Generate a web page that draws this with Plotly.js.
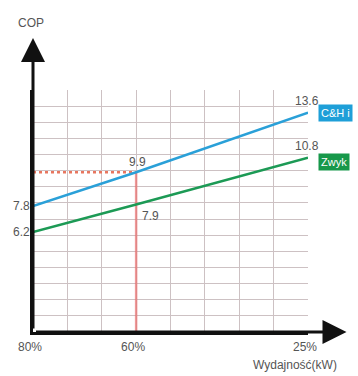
<!DOCTYPE html>
<html><head><meta charset="utf-8">
<script src="https://cdn.plot.ly/plotly-3.0.1.min.js"></script>
<style>html,body{margin:0;padding:0;background:#fff;}#c{width:358px;height:376px;}</style>
</head><body><div id="c"></div>
<script>
// Data
const xPos = [0, 3, 8];                 // column positions of the load points
const xTickVals = [0,1,2,3,4,5,6,7,8];
const xTickText = ['80%','','','60%','','','','','25%'];
const chValues = [7.8, 9.9, 13.6];      // C&H inverter COP
const stdValues = [6.2, 7.9, 10.8];     // ordinary unit COP
const seriesNames = ['C&H i', 'Zwyk']; // as visible (cut at image edge) in the reference
const markX = 3;                        // 60% load
const markY = 9.9;

const font = 'Liberation Sans, Arial, sans-serif';
const txt = '#555';

const traces = [
  {x:[xPos[0], markX], y:[markY, markY], mode:'lines', line:{color:'#e8765f', width:2.5, dash:'dot'}, hoverinfo:'skip'},
  {x:[markX, markX], y:[0, markY], mode:'lines', line:{color:'rgba(232,110,110,0.7)', width:2.5}, hoverinfo:'skip'},
  {x:xPos, y:chValues, mode:'lines', name:seriesNames[0], line:{color:'#2aa0d8', width:2.5}},
  {x:xPos, y:stdValues, mode:'lines', name:seriesNames[1], line:{color:'#1c9a55', width:2.5}}
];

const ann = [];
// value labels
ann.push({x:xPos[0], y:chValues[0], text:String(chValues[0]), xanchor:'right', yanchor:'middle', xshift:-1, showarrow:false});
ann.push({x:xPos[0], y:stdValues[0], text:String(stdValues[0]), xanchor:'right', yanchor:'middle', xshift:-1, showarrow:false});
ann.push({x:xPos[2], y:chValues[2], text:String(chValues[2]), xanchor:'center', yanchor:'bottom', xshift:-1, yshift:3, showarrow:false});
ann.push({x:xPos[2], y:stdValues[2], text:String(stdValues[2]), xanchor:'center', yanchor:'bottom', xshift:-1, yshift:3, showarrow:false});
ann.push({x:xPos[1], y:chValues[1], text:String(chValues[1]), xanchor:'center', yanchor:'bottom', xshift:1, yshift:1, showarrow:false});
ann.push({x:xPos[1], y:stdValues[1], text:String(stdValues[1]), xanchor:'left', yanchor:'top', xshift:4, yshift:-2, showarrow:false});
// series pills
ann.push({x:xPos[2], y:chValues[2], text:seriesNames[0], xanchor:'left', yanchor:'middle', xshift:10, yshift:0, showarrow:false,
  bgcolor:'#1e9fd8', font:{color:'#fff', size:11, family:font}, borderpad:2});
ann.push({x:xPos[2], y:stdValues[2], text:seriesNames[1], xanchor:'left', yanchor:'middle', xshift:10, yshift:-4, showarrow:false,
  bgcolor:'#17984a', font:{color:'#fff', size:11, family:font}, borderpad:2});
// axis titles
ann.push({xref:'paper', yref:'paper', x:-0.007, y:1.277, text:'COP', showarrow:false, xanchor:'center', yanchor:'middle'});
ann.push({xref:'paper', yref:'paper', x:0.953, y:-0.136, text:'Wydajność(kW)', showarrow:false, xanchor:'center', yanchor:'middle'});
// axis arrows
ann.push({xref:'paper', yref:'paper', x:0, y:1.215, ax:0, ay:292, text:'', showarrow:true, arrowhead:2, arrowsize:1.6, arrowwidth:3, arrowcolor:'#111', standoff:0, startstandoff:0});
ann.push({xref:'paper', yref:'paper', x:1.14, y:0, ax:-312, ay:0, text:'', showarrow:true, arrowhead:2, arrowsize:1.6, arrowwidth:3, arrowcolor:'#111', standoff:0, startstandoff:0});

const layout = {
  width:358, height:376,
  margin:{l:33, r:50, t:90, b:44, pad:0},
  paper_bgcolor:'#fff', plot_bgcolor:'#fff',
  showlegend:false,
  font:{family:font, size:12, color:txt},
  xaxis:{range:[0,8], tickmode:'array', tickvals:xTickVals, ticktext:xTickText,
    showgrid:true, gridcolor:'#cdc1c3', gridwidth:1, zeroline:false,
    showline:true, linecolor:'#111', linewidth:3, ticks:'', ticklabelshift:-3, ticklabelstandoff:2,
    tickfont:{size:12, color:txt, family:font}, fixedrange:true},
  yaxis:{range:[0,15], tickmode:'linear', tick0:0, dtick:1, showticklabels:false,
    showgrid:true, gridcolor:'#cdc1c3', gridwidth:1, zeroline:false,
    showline:true, linecolor:'#111', linewidth:3, ticks:'', fixedrange:true},
  annotations: ann
};
Plotly.newPlot('c', traces, layout, {displayModeBar:false, staticPlot:true});
</script></body></html>
